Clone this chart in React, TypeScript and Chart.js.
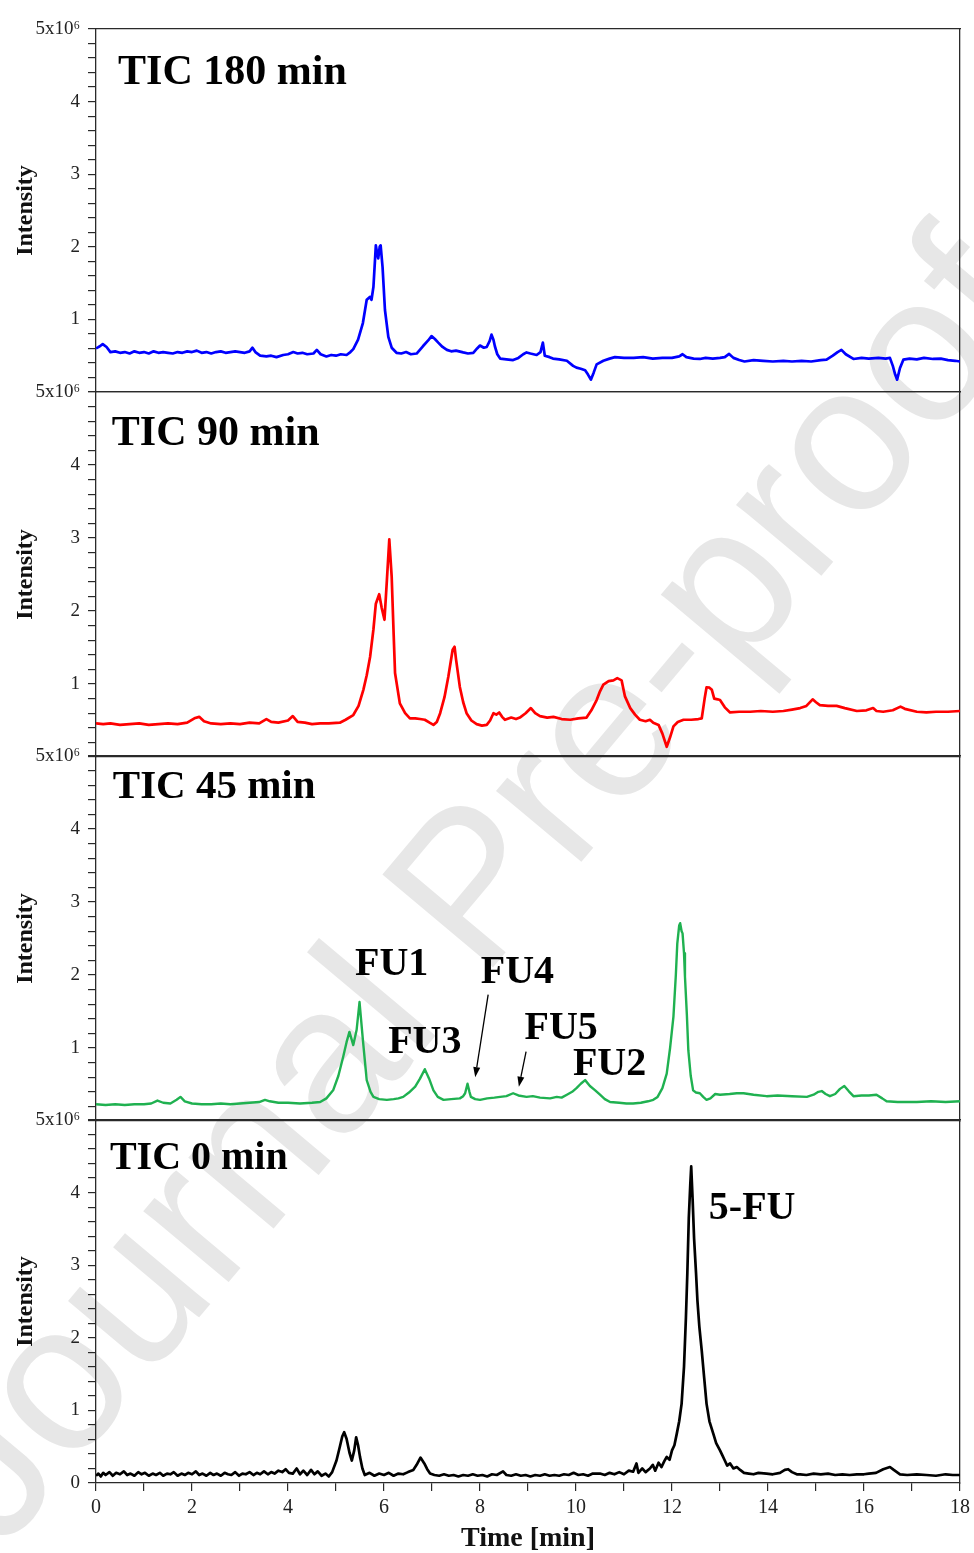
import React, { useEffect, useRef } from 'react';
import { Chart, registerables } from 'chart.js';

Chart.register(...registerables);

const SERIF = '"Liberation Serif", "Times New Roman", Times, serif';

// ---------- TIC 180 min (blue) ----------
const time180 = [
  0.00, 0.08, 0.14, 0.22, 0.30, 0.40, 0.50, 0.60, 0.70, 0.80, 0.90, 1.00, 1.10, 1.20, 1.30, 1.40, 1.50, 1.60, 1.70, 1.80,
  1.90, 2.00, 2.10, 2.20, 2.30, 2.40, 2.50, 2.60, 2.70, 2.80, 2.90, 3.00, 3.10, 3.20, 3.26, 3.32, 3.42, 3.55, 3.65, 3.76,
  3.90, 4.00, 4.11, 4.20, 4.30, 4.40, 4.53, 4.60, 4.68, 4.80, 4.90, 5.00, 5.10, 5.22, 5.30, 5.36, 5.46, 5.56, 5.64, 5.71,
  5.74, 5.78, 5.83, 5.86, 5.88, 5.91, 5.93, 5.97, 6.02, 6.09, 6.16, 6.26, 6.36, 6.46, 6.56, 6.68, 6.81, 6.92, 6.99, 7.06,
  7.13, 7.22, 7.31, 7.40, 7.50, 7.65, 7.75, 7.86, 7.94, 8.00, 8.08, 8.14, 8.20, 8.24, 8.28, 8.31, 8.36, 8.42, 8.55, 8.69,
  8.80, 8.90, 8.97, 9.05, 9.18, 9.26, 9.31, 9.35, 9.45, 9.52, 9.65, 9.81, 9.94, 10.01, 10.10, 10.19, 10.25, 10.31, 10.37, 10.43,
  10.57, 10.70, 10.81, 11.00, 11.20, 11.40, 11.60, 11.80, 12.00, 12.15, 12.22, 12.30, 12.45, 12.58, 12.70, 12.85, 13.00, 13.10, 13.19, 13.28,
  13.40, 13.51, 13.70, 13.90, 14.10, 14.32, 14.50, 14.70, 14.90, 15.10, 15.22, 15.35, 15.45, 15.53, 15.62, 15.78, 15.95, 16.10, 16.30, 16.45,
  16.54, 16.60, 16.65, 16.69, 16.75, 16.82, 16.95, 17.10, 17.25, 17.44, 17.60, 17.75, 17.90, 18.00,
];
const int180 = [
  0.60, 0.63, 0.66, 0.62, 0.55, 0.56, 0.54, 0.55, 0.53, 0.56, 0.54, 0.55, 0.53, 0.56, 0.54, 0.55, 0.54, 0.53, 0.55, 0.54,
  0.56, 0.55, 0.57, 0.54, 0.55, 0.53, 0.55, 0.56, 0.54, 0.55, 0.56, 0.55, 0.54, 0.56, 0.61, 0.55, 0.50, 0.49, 0.50, 0.48,
  0.51, 0.52, 0.55, 0.53, 0.54, 0.52, 0.53, 0.58, 0.52, 0.49, 0.51, 0.50, 0.52, 0.51, 0.55, 0.59, 0.72, 0.95, 1.27, 1.31,
  1.27, 1.45, 2.02, 1.90, 1.84, 2.00, 2.02, 1.72, 1.13, 0.76, 0.61, 0.54, 0.53, 0.55, 0.52, 0.53, 0.63, 0.71, 0.77, 0.73,
  0.68, 0.62, 0.58, 0.56, 0.57, 0.545, 0.53, 0.54, 0.60, 0.64, 0.61, 0.62, 0.70, 0.79, 0.72, 0.63, 0.52, 0.46, 0.45, 0.44,
  0.47, 0.52, 0.545, 0.53, 0.51, 0.55, 0.68, 0.50, 0.48, 0.46, 0.45, 0.43, 0.36, 0.335, 0.32, 0.30, 0.24, 0.17, 0.27, 0.38,
  0.43, 0.46, 0.48, 0.47, 0.47, 0.48, 0.46, 0.47, 0.47, 0.49, 0.52, 0.48, 0.46, 0.455, 0.47, 0.46, 0.47, 0.48, 0.525, 0.47,
  0.44, 0.42, 0.44, 0.43, 0.42, 0.43, 0.42, 0.43, 0.42, 0.44, 0.445, 0.50, 0.55, 0.58, 0.52, 0.455, 0.47, 0.46, 0.47, 0.46,
  0.47, 0.36, 0.24, 0.17, 0.33, 0.445, 0.46, 0.45, 0.47, 0.455, 0.46, 0.44, 0.43, 0.42,
];

// ---------- TIC 90 min (red) ----------
const time90 = [
  0.00, 0.15, 0.30, 0.50, 0.70, 0.90, 1.10, 1.30, 1.50, 1.70, 1.90, 2.05, 2.15, 2.25, 2.40, 2.60, 2.80, 3.00, 3.20, 3.40,
  3.55, 3.65, 3.80, 4.00, 4.10, 4.20, 4.35, 4.50, 4.67, 4.85, 5.08, 5.20, 5.36, 5.47, 5.57, 5.64, 5.71, 5.78, 5.83, 5.90,
  5.95, 6.01, 6.06, 6.11, 6.16, 6.20, 6.23, 6.33, 6.44, 6.54, 6.65, 6.75, 6.85, 6.95, 7.03, 7.10, 7.17, 7.26, 7.34, 7.43,
  7.47, 7.50, 7.58, 7.65, 7.72, 7.82, 7.93, 8.04, 8.14, 8.21, 8.28, 8.34, 8.40, 8.46, 8.52, 8.65, 8.75, 8.83, 8.95, 9.06,
  9.15, 9.25, 9.40, 9.53, 9.70, 9.88, 10.05, 10.22, 10.32, 10.43, 10.50, 10.57, 10.68, 10.78, 10.86, 10.95, 11.02, 11.13, 11.23, 11.33,
  11.45, 11.54, 11.61, 11.72, 11.80, 11.89, 11.96, 12.03, 12.12, 12.24, 12.40, 12.55, 12.62, 12.68, 12.72, 12.78, 12.83, 12.88, 12.95, 13.00,
  13.10, 13.21, 13.40, 13.63, 13.85, 14.10, 14.32, 14.50, 14.67, 14.80, 14.93, 15.00, 15.08, 15.25, 15.43, 15.60, 15.85, 16.05, 16.19, 16.26,
  16.40, 16.60, 16.76, 16.85, 17.10, 17.30, 17.50, 17.75, 18.00,
];
const int90 = [
  0.46, 0.45, 0.46, 0.44, 0.45, 0.46, 0.44, 0.45, 0.46, 0.45, 0.47, 0.53, 0.55, 0.49, 0.46, 0.45, 0.46, 0.45, 0.47, 0.46,
  0.52, 0.48, 0.47, 0.50, 0.56, 0.48, 0.47, 0.45, 0.46, 0.46, 0.47, 0.51, 0.575, 0.70, 0.92, 1.12, 1.37, 1.75, 2.10, 2.23,
  2.05, 1.88, 2.42, 2.98, 2.47, 1.70, 1.15, 0.735, 0.60, 0.53, 0.53, 0.52, 0.51, 0.47, 0.44, 0.48, 0.60, 0.82, 1.10, 1.47,
  1.51, 1.34, 0.96, 0.75, 0.60, 0.50, 0.45, 0.43, 0.44, 0.50, 0.60, 0.58, 0.61, 0.55, 0.51, 0.54, 0.52, 0.54, 0.60, 0.67,
  0.60, 0.56, 0.54, 0.55, 0.52, 0.51, 0.53, 0.54, 0.64, 0.78, 0.90, 0.99, 1.04, 1.05, 1.08, 1.05, 0.83, 0.67, 0.58, 0.51,
  0.49, 0.51, 0.47, 0.44, 0.32, 0.14, 0.27, 0.42, 0.48, 0.51, 0.51, 0.52, 0.53, 0.80, 0.955, 0.95, 0.92, 0.80, 0.79, 0.78,
  0.68, 0.61, 0.62, 0.62, 0.63, 0.62, 0.63, 0.65, 0.67, 0.70, 0.79, 0.75, 0.71, 0.70, 0.70, 0.67, 0.63, 0.64, 0.67, 0.63,
  0.62, 0.64, 0.69, 0.66, 0.62, 0.61, 0.62, 0.62, 0.63,
];

// ---------- TIC 45 min (green) ----------
const time45 = [
  0.00, 0.20, 0.40, 0.60, 0.80, 1.00, 1.15, 1.28, 1.40, 1.55, 1.68, 1.76, 1.85, 2.00, 2.20, 2.40, 2.60, 2.80, 3.00, 3.20,
  3.40, 3.52, 3.62, 3.80, 4.00, 4.25, 4.50, 4.67, 4.80, 4.94, 5.05, 5.15, 5.22, 5.28, 5.36, 5.43, 5.49, 5.56, 5.64, 5.72,
  5.78, 5.90, 6.06, 6.20, 6.30, 6.40, 6.52, 6.65, 6.75, 6.85, 6.94, 7.03, 7.12, 7.24, 7.40, 7.58, 7.65, 7.69, 7.74, 7.78,
  7.81, 7.90, 8.00, 8.15, 8.30, 8.42, 8.55, 8.69, 8.80, 8.97, 9.10, 9.25, 9.46, 9.60, 9.70, 9.81, 9.92, 10.01, 10.10, 10.19,
  10.29, 10.40, 10.50, 10.60, 10.71, 10.90, 11.05, 11.19, 11.35, 11.50, 11.61, 11.70, 11.80, 11.89, 11.96, 12.03, 12.08, 12.11, 12.15, 12.17,
  12.20, 12.22, 12.25, 12.27, 12.31, 12.34, 12.39, 12.44, 12.50, 12.58, 12.65, 12.72, 12.80, 12.90, 13.00, 13.20, 13.35, 13.49, 13.70, 13.97,
  14.20, 14.50, 14.81, 14.95, 15.05, 15.12, 15.20, 15.29, 15.40, 15.50, 15.59, 15.68, 15.78, 15.95, 16.10, 16.26, 16.38, 16.47, 16.70, 16.90,
  17.10, 17.40, 17.70, 18.00,
];
const int45 = [
  0.23, 0.22, 0.23, 0.22, 0.23, 0.23, 0.24, 0.28, 0.25, 0.24, 0.29, 0.33, 0.27, 0.24, 0.23, 0.23, 0.24, 0.23, 0.24, 0.25,
  0.26, 0.29, 0.27, 0.25, 0.25, 0.24, 0.25, 0.26, 0.31, 0.42, 0.62, 0.88, 1.08, 1.22, 1.04, 1.25, 1.63, 1.11, 0.56, 0.40,
  0.33, 0.30, 0.29, 0.30, 0.31, 0.33, 0.39, 0.47, 0.58, 0.71, 0.58, 0.42, 0.33, 0.29, 0.30, 0.31, 0.34, 0.38, 0.51, 0.40,
  0.33, 0.30, 0.29, 0.31, 0.32, 0.33, 0.34, 0.38, 0.35, 0.33, 0.34, 0.32, 0.31, 0.33, 0.32, 0.36, 0.40, 0.45, 0.51, 0.56,
  0.48, 0.42, 0.36, 0.30, 0.26, 0.25, 0.24, 0.24, 0.25, 0.27, 0.29, 0.33, 0.45, 0.65, 1.00, 1.43, 2.00, 2.43, 2.68, 2.71,
  2.60, 2.57, 2.30, 1.98, 1.45, 0.97, 0.62, 0.42, 0.39, 0.38, 0.33, 0.29, 0.31, 0.37, 0.36, 0.37, 0.38, 0.38, 0.36, 0.34,
  0.35, 0.34, 0.33, 0.36, 0.40, 0.41, 0.37, 0.34, 0.37, 0.44, 0.48, 0.41, 0.34, 0.35, 0.35, 0.36, 0.31, 0.27, 0.26, 0.26,
  0.26, 0.27, 0.26, 0.27,
];

// ---------- TIC 0 min (black) ----------
const time0 = [
  0.00, 0.05, 0.10, 0.15, 0.20, 0.28, 0.35, 0.42, 0.50, 0.58, 0.65, 0.72, 0.80, 0.88, 0.95, 1.02, 1.10, 1.18, 1.25, 1.33,
  1.40, 1.48, 1.55, 1.62, 1.70, 1.78, 1.85, 1.92, 2.00, 2.08, 2.15, 2.22, 2.30, 2.38, 2.45, 2.52, 2.60, 2.68, 2.75, 2.82,
  2.90, 2.98, 3.05, 3.12, 3.20, 3.28, 3.35, 3.42, 3.50, 3.58, 3.65, 3.72, 3.80, 3.88, 3.95, 4.02, 4.10, 4.18, 4.25, 4.32,
  4.40, 4.48, 4.55, 4.62, 4.70, 4.78, 4.85, 4.92, 5.01, 5.08, 5.13, 5.17, 5.22, 5.28, 5.33, 5.38, 5.42, 5.46, 5.50, 5.55,
  5.60, 5.70, 5.80, 5.90, 6.00, 6.10, 6.20, 6.30, 6.40, 6.50, 6.61, 6.68, 6.76, 6.84, 6.90, 6.96, 7.05, 7.15, 7.25, 7.35,
  7.45, 7.55, 7.65, 7.75, 7.85, 7.95, 8.05, 8.15, 8.25, 8.35, 8.48, 8.55, 8.65, 8.75, 8.85, 8.95, 9.05, 9.15, 9.25, 9.35,
  9.45, 9.55, 9.65, 9.75, 9.85, 9.95, 10.05, 10.15, 10.25, 10.35, 10.50, 10.60, 10.70, 10.80, 10.90, 11.00, 11.10, 11.19, 11.26, 11.30,
  11.38, 11.45, 11.54, 11.60, 11.65, 11.72, 11.78, 11.84, 11.89, 11.95, 12.00, 12.05, 12.10, 12.15, 12.20, 12.25, 12.29, 12.32, 12.35, 12.38,
  12.40, 12.43, 12.46, 12.50, 12.53, 12.57, 12.62, 12.67, 12.72, 12.78, 12.86, 12.92, 13.00, 13.05, 13.10, 13.15, 13.21, 13.28, 13.35, 13.42,
  13.50, 13.60, 13.70, 13.80, 13.97, 14.10, 14.25, 14.35, 14.42, 14.50, 14.60, 14.67, 14.80, 14.95, 15.10, 15.25, 15.40, 15.55, 15.70, 15.85,
  16.00, 16.10, 16.25, 16.40, 16.54, 16.62, 16.75, 16.90, 17.10, 17.30, 17.50, 17.70, 17.85, 18.00,
];
const int0 = [
  0.10, 0.13, 0.09, 0.14, 0.11, 0.15, 0.10, 0.14, 0.12, 0.16, 0.11, 0.13, 0.10, 0.15, 0.12, 0.14, 0.10, 0.13, 0.11, 0.14,
  0.10, 0.13, 0.12, 0.15, 0.10, 0.13, 0.11, 0.14, 0.12, 0.16, 0.11, 0.13, 0.10, 0.14, 0.11, 0.13, 0.10, 0.14, 0.12, 0.11,
  0.15, 0.10, 0.13, 0.12, 0.15, 0.11, 0.14, 0.12, 0.16, 0.12, 0.15, 0.13, 0.17, 0.15, 0.19, 0.14, 0.13, 0.20, 0.12, 0.17,
  0.11, 0.18, 0.12, 0.16, 0.10, 0.13, 0.09, 0.15, 0.31, 0.50, 0.64, 0.70, 0.61, 0.42, 0.31, 0.45, 0.63, 0.52, 0.36, 0.20,
  0.11, 0.14, 0.10, 0.13, 0.11, 0.14, 0.10, 0.13, 0.12, 0.15, 0.18, 0.25, 0.35, 0.27, 0.19, 0.13, 0.11, 0.10, 0.12, 0.10,
  0.11, 0.09, 0.11, 0.10, 0.12, 0.10, 0.11, 0.09, 0.12, 0.11, 0.16, 0.11, 0.10, 0.12, 0.10, 0.11, 0.09, 0.11, 0.10, 0.12,
  0.10, 0.11, 0.10, 0.12, 0.11, 0.14, 0.11, 0.12, 0.10, 0.13, 0.13, 0.11, 0.14, 0.12, 0.15, 0.12, 0.17, 0.155, 0.27, 0.14,
  0.20, 0.15, 0.20, 0.25, 0.17, 0.28, 0.22, 0.30, 0.36, 0.32, 0.45, 0.52, 0.68, 0.85, 1.09, 1.60, 2.28, 2.90, 3.65, 4.10,
  4.36, 3.90, 3.37, 2.90, 2.51, 2.15, 1.82, 1.45, 1.09, 0.85, 0.68, 0.55, 0.45, 0.38, 0.31, 0.24, 0.27, 0.20, 0.22, 0.18,
  0.14, 0.13, 0.12, 0.14, 0.13, 0.12, 0.14, 0.18, 0.19, 0.15, 0.12, 0.12, 0.11, 0.13, 0.12, 0.13, 0.11, 0.12, 0.11, 0.12,
  0.12, 0.13, 0.14, 0.19, 0.22, 0.18, 0.12, 0.11, 0.12, 0.11, 0.10, 0.12, 0.11, 0.11,
];

// ---------- axis ranges / labels ----------
const X_MIN = 0;
const X_MAX = 18;
const Y_MIN = 0;
const Y_MAX = 5;
const Y_TOP_LABEL = '5x10⁶';
const X_TITLE = 'Time [min]';
const Y_TITLE = 'Intensity';
const WATERMARK = 'Journal Pre-proof';

type Note = { text: string; x: number; y: number; align: CanvasTextAlign; size: number };
type Arrow = { x1: number; y1: number; x2: number; y2: number };

const notes180: Note[] = [{ text: 'TIC 180 min', x: 0.46, y: 4.24, align: 'left', size: 42 }];
const notes90: Note[] = [{ text: 'TIC 90 min', x: 0.33, y: 4.27, align: 'left', size: 42 }];
const notes45: Note[] = [
  { text: 'TIC 45 min', x: 0.35, y: 4.42, align: 'left', size: 41 },
  { text: 'FU1', x: 6.16, y: 2.0, align: 'center', size: 40 },
  { text: 'FU3', x: 6.85, y: 0.93, align: 'center', size: 40 },
  { text: 'FU4', x: 8.78, y: 1.89, align: 'center', size: 40 },
  { text: 'FU5', x: 9.69, y: 1.12, align: 'center', size: 40 },
  { text: 'FU2', x: 10.7, y: 0.63, align: 'center', size: 40 },
];
const arrows45: Arrow[] = [
  { x1: 8.17, y1: 1.73, x2: 7.9, y2: 0.6 },
  { x1: 8.96, y1: 0.95, x2: 8.81, y2: 0.47 },
];
const notes0: Note[] = [
  { text: 'TIC 0 min', x: 0.29, y: 4.32, align: 'left', size: 40 },
  { text: '5-FU', x: 13.67, y: 3.63, align: 'center', size: 40 },
];

type PanelCfg = {
  id: string;
  times: number[];
  values: number[];
  color: string;
  lineWidth: number;
  notes: Note[];
  arrows: Arrow[];
  top: number;
  height: number;
  topSpace: number;
  bottomSpace: number;
  isBottom: boolean;
};

const PANELS: PanelCfg[] = [
  { id: 'p180', times: time180, values: int180, color: '#0000ff', lineWidth: 2.7, notes: notes180, arrows: [], top: 0, height: 394, topSpace: 29, bottomSpace: 2, isBottom: false },
  { id: 'p90', times: time90, values: int90, color: '#ff0000', lineWidth: 2.7, notes: notes90, arrows: [], top: 377, height: 382, topSpace: 15, bottomSpace: 2, isBottom: false },
  { id: 'p45', times: time45, values: int45, color: '#1fb150', lineWidth: 2.4, notes: notes45, arrows: arrows45, top: 741, height: 382, topSpace: 15, bottomSpace: 2, isBottom: false },
  { id: 'p0', times: time0, values: int0, color: '#000000', lineWidth: 2.7, notes: notes0, arrows: [], top: 1105, height: 448, topSpace: 15, bottomSpace: 70, isBottom: true },
];

const AXIS_COLOR = '#2a2a2a';

function Panel({ cfg }: { cfg: PanelCfg }) {
  const ref = useRef<HTMLCanvasElement>(null);
  useEffect(() => {
    const canvas = ref.current;
    if (!canvas) return;
    const notesPlugin = {
      id: 'notes_' + cfg.id,
      afterDatasetsDraw(chart: any) {
        const { ctx } = chart;
        const xs = chart.scales.x;
        const ys = chart.scales.y;
        ctx.save();
        ctx.fillStyle = '#000';
        ctx.strokeStyle = '#000';
        for (const n of cfg.notes) {
          ctx.font = `bold ${n.size}px ${SERIF}`;
          ctx.textAlign = n.align;
          ctx.textBaseline = 'alphabetic';
          ctx.fillText(n.text, xs.getPixelForValue(n.x), ys.getPixelForValue(n.y));
        }
        for (const a of cfg.arrows) {
          const x1 = xs.getPixelForValue(a.x1);
          const y1 = ys.getPixelForValue(a.y1);
          const x2 = xs.getPixelForValue(a.x2);
          const y2 = ys.getPixelForValue(a.y2);
          const ang = Math.atan2(y2 - y1, x2 - x1);
          const hl = 10;
          const hw = 3.5;
          const bx = x2 - hl * Math.cos(ang);
          const by = y2 - hl * Math.sin(ang);
          ctx.lineWidth = 1.3;
          ctx.beginPath();
          ctx.moveTo(x1, y1);
          ctx.lineTo(bx, by);
          ctx.stroke();
          ctx.beginPath();
          ctx.moveTo(x2, y2);
          ctx.lineTo(bx + hw * Math.sin(ang), by - hw * Math.cos(ang));
          ctx.lineTo(bx - hw * Math.sin(ang), by + hw * Math.cos(ang));
          ctx.closePath();
          ctx.fill();
        }
        ctx.restore();
      },
    };

    const chart = new Chart(canvas, {
      type: 'line',
      data: {
        datasets: [
          {
            data: cfg.times.map((t, i) => ({ x: t, y: cfg.values[i] })),
            borderColor: cfg.color,
            borderWidth: cfg.lineWidth,
            pointRadius: 0,
            tension: 0,
            fill: false,
            borderJoinStyle: 'round',
          },
        ],
      },
      options: {
        animation: false,
        responsive: false,
        maintainAspectRatio: false,
        devicePixelRatio: 1,
        layout: { padding: 0 },
        plugins: { legend: { display: false }, tooltip: { enabled: false }, title: { display: false } },
        scales: {
          x: {
            type: 'linear',
            position: 'bottom',
            min: X_MIN,
            max: X_MAX,
            ticks: {
              display: cfg.isBottom,
              stepSize: 1,
              autoSkip: false,
              maxRotation: 0,
              padding: 5,
              color: '#222',
              font: { family: SERIF, size: 20 },
              callback: (v: any) => {
                const n = Number(v);
                return Math.round(n) % 2 === 0 ? String(Math.round(n)) : '';
              },
            },
            grid: { drawOnChartArea: false, drawTicks: cfg.isBottom, tickLength: 8, color: AXIS_COLOR, lineWidth: 1.2 },
            border: { display: true, color: AXIS_COLOR, width: 1.3 },
            title: {
              display: cfg.isBottom,
              text: X_TITLE,
              color: '#111',
              font: { family: SERIF, size: 28, weight: 'bold', lineHeight: 1 },
              padding: { top: 0, bottom: 0 },
            },
            afterFit: (s: any) => {
              s.height = cfg.bottomSpace;
              s.paddingLeft = 0;
              s.paddingRight = 0;
            },
          },
          x2: {
            type: 'linear',
            position: 'top',
            min: X_MIN,
            max: X_MAX,
            ticks: { display: false },
            grid: { drawOnChartArea: false, drawTicks: false },
            border: { display: true, color: AXIS_COLOR, width: 1.3 },
            afterFit: (s: any) => {
              s.height = cfg.topSpace;
              s.paddingLeft = 0;
              s.paddingRight = 0;
            },
          },
          y: {
            type: 'linear',
            position: 'left',
            min: Y_MIN,
            max: Y_MAX,
            ticks: {
              stepSize: 0.2,
              autoSkip: false,
              padding: 8,
              color: '#222',
              font: { family: SERIF, size: 19 },
              callback: (v: any) => {
                const n = Number(v);
                const r = Math.round(n);
                if (Math.abs(n - r) > 1e-6) return '';
                if (r === Y_MAX) return Y_TOP_LABEL;
                if (r === 0) return cfg.isBottom ? '0' : '';
                return String(r);
              },
            },
            grid: { drawOnChartArea: false, drawTicks: true, tickLength: 8, color: AXIS_COLOR, lineWidth: 1.2 },
            border: { display: true, color: AXIS_COLOR, width: 1.3 },
            title: {
              display: true,
              text: Y_TITLE,
              color: '#111',
              font: { family: SERIF, size: 24, weight: 'bold', lineHeight: 1 },
              padding: { top: 14, bottom: 0 },
            },
            afterFit: (s: any) => {
              s.width = 96;
              s.paddingTop = 0;
              s.paddingBottom = 0;
            },
          },
          y2: {
            type: 'linear',
            position: 'right',
            min: Y_MIN,
            max: Y_MAX,
            ticks: { display: false },
            grid: { drawOnChartArea: false, drawTicks: false },
            border: { display: true, color: AXIS_COLOR, width: 1.3 },
            afterFit: (s: any) => {
              s.width = 14;
              s.paddingTop = 0;
              s.paddingBottom = 0;
            },
          },
        },
      } as any,
      plugins: [notesPlugin],
    });
    return () => chart.destroy();
  }, [cfg]);

  return (
    <canvas
      ref={ref}
      width={974}
      height={cfg.height}
      style={{ position: 'absolute', left: 0, top: cfg.top, width: 974, height: cfg.height, display: 'block' }}
    />
  );
}

export default function App() {
  return (
    <div
      style={{
        position: 'absolute',
        left: 0,
        top: 0,
        width: 974,
        height: 1553,
        overflow: 'hidden',
        background: '#ffffff',
      }}
    >
      <div
        style={{
          position: 'absolute',
          left: 468,
          top: 885,
          transform: 'translate(-50%, -50%) rotate(-50deg)',
          fontFamily: '"Liberation Sans", Arial, sans-serif',
          fontSize: 210,
          lineHeight: 1,
          color: '#e7e7e7',
          whiteSpace: 'nowrap',
          pointerEvents: 'none',
        }}
      >
        {WATERMARK}
      </div>
      {PANELS.map((p) => (
        <Panel key={p.id} cfg={p} />
      ))}
    </div>
  );
}
